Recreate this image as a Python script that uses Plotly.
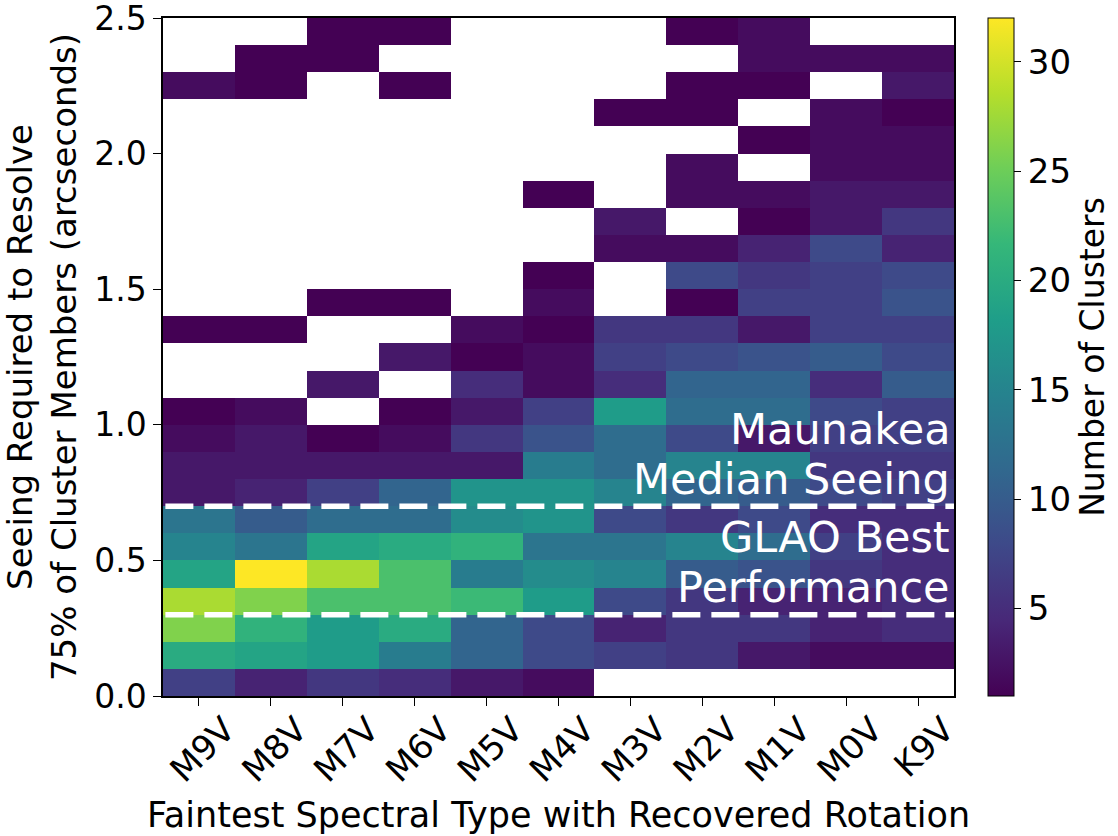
import plotly.graph_objects as go

# Faintest spectral type with a recovered rotation period (x categories)
spectral_types = ["M9V", "M8V", "M7V", "M6V", "M5V", "M4V",
                  "M3V", "M2V", "M1V", "M0V", "K9V"]

# Centres of the 0.1" seeing bins, from 0.05" up to 2.45"
seeing_centers = [0.05, 0.15, 0.25, 0.35, 0.45, 0.55, 0.65, 0.75, 0.85, 0.95,
                  1.05, 1.15, 1.25, 1.35, 1.45, 1.55, 1.65, 1.75, 1.85, 1.95,
                  2.05, 2.15, 2.25, 2.35, 2.45]

N = None  # empty bin (no clusters)

# Number of clusters per (seeing bin, spectral type); rows go from 0.0" upward
counts = [
    [7, 4, 6, 5, 3, 2, N, N, N, N, N],          # 0.0-0.1
    [20, 19, 18, 14, 11, 8, 7, 6, 3, 2, 2],     # 0.1-0.2
    [26, 21, 18, 20, 11, 8, 4, 6, 6, 4, 5],     # 0.2-0.3
    [28, 26, 23, 23, 22, 18, 8, 6, 4, 4, 5],    # 0.3-0.4
    [19, 32, 28, 23, 14, 16, 15, 10, 9, 6, 5],  # 0.4-0.5
    [15, 13, 19, 20, 21, 13, 13, 15, 12, 7, 5], # 0.5-0.6
    [13, 10, 12, 12, 16, 17, 8, 6, 8, 5, 5],    # 0.6-0.7
    [3, 4, 7, 11, 17, 17, 15, 11, 10, 8, 7],    # 0.7-0.8
    [3, 3, 3, 3, 3, 14, 12, 15, 15, 6, 6],      # 0.8-0.9
    [2, 3, 1, 2, 6, 9, 12, 8, 3, 7, 7],         # 0.9-1.0
    [1, 2, N, 1, 3, 7, 18, 12, 12, 8, 7],       # 1.0-1.1
    [N, N, 3, N, 5, 2, 5, 11, 11, 5, 10],       # 1.1-1.2
    [N, N, N, 3, 1, 2, 7, 8, 9, 10, 8],         # 1.2-1.3
    [1, 1, N, N, 2, 1, 6, 6, 3, 7, 7],          # 1.3-1.4
    [N, N, 1, 1, N, 2, N, 1, 7, 7, 9],          # 1.4-1.5
    [N, N, N, N, N, 1, N, 8, 6, 7, 8],          # 1.5-1.6
    [N, N, N, N, N, N, 2, 2, 4, 8, 4],          # 1.6-1.7
    [N, N, N, N, N, N, 3, N, 1, 3, 6],          # 1.7-1.8
    [N, N, N, N, N, 1, N, 2, 2, 3, 3],          # 1.8-1.9
    [N, N, N, N, N, N, N, 2, N, 2, 2],          # 1.9-2.0
    [N, N, N, N, N, N, N, N, 1, 2, 2],          # 2.0-2.1
    [N, N, N, N, N, N, 1, 1, N, 2, 1],          # 2.1-2.2
    [2, 1, N, 1, N, N, N, 1, 1, N, 3],          # 2.2-2.3
    [N, 1, 1, N, N, N, N, N, 2, 2, 2],          # 2.3-2.4
    [N, N, 1, 1, N, N, N, 1, 2, N, N],          # 2.4-2.5
]

# Seeing limits marked with dashed lines: GLAO best (0.3") and Maunakea median (0.7")
reference_seeing = [0.3, 0.7]

y_ticks = [0.0, 0.5, 1.0, 1.5, 2.0, 2.5]
cbar_ticks = [5, 10, 15, 20, 25, 30]

FONT = "DejaVu Sans"

fig = go.Figure()

fig.add_trace(go.Heatmap(
    x=spectral_types,
    y=seeing_centers,
    z=counts,
    zmin=1,
    zmax=32,
    colorscale="Viridis",
    hoverongaps=False,
    colorbar=dict(
        title=dict(text="Number of Clusters", side="right",
                   font=dict(family=FONT, size=33, color="black")),
        x=1.043, xanchor="left", xref="paper", xpad=0,
        y=0.5, yanchor="middle", len=1.0, lenmode="fraction", ypad=0,
        thickness=26,
        outlinewidth=1, outlinecolor="black",
        tickvals=cbar_ticks,
        ticks="outside", ticklen=7, tickwidth=1, tickcolor="black",
        tickfont=dict(family=FONT, size=34, color="black"),
    ),
))

for y in reference_seeing:
    fig.add_shape(type="line", xref="paper", yref="y",
                  x0=0.003, x1=1, y0=y, y1=y,
                  line=dict(color="white", width=5.5, dash="28px,11px"))

labels = [("Maunakea", 0.985), ("Median Seeing", 0.80),
          ("GLAO Best", 0.586), ("Performance", 0.401)]
for text, y in labels:
    fig.add_annotation(text=text, xref="paper", yref="y", x=1, y=y,
                       xanchor="right", yanchor="middle", xshift=-2,
                       showarrow=False, align="right",
                       font=dict(family=FONT, size=43, color="white"))

fig.update_xaxes(
    type="category",
    title=dict(text="Faintest Spectral Type with Recovered Rotation",
               font=dict(family=FONT, size=35, color="black"), standoff=14),
    tickangle=-45,
    ticklabelshift=26,
    ticklabelstandoff=-10,
    ticks="outside", ticklen=8, tickwidth=1.2, tickcolor="black",
    tickfont=dict(family=FONT, size=34, color="black"),
    showline=True, linecolor="black", linewidth=1.5, mirror=True,
    showgrid=False, zeroline=False,
)
fig.update_yaxes(
    range=[0, 2.5],
    tickvals=y_ticks,
    tickformat=".1f",
    ticklabeloverflow="allow",
    title=dict(text="Seeing Required to Resolve<br>75% of Cluster Members (arcseconds)",
               font=dict(family=FONT, size=34, color="black"), standoff=11),
    ticks="outside", ticklen=8, tickwidth=1.2, tickcolor="black",
    tickfont=dict(family=FONT, size=33, color="black"),
    showline=True, linecolor="black", linewidth=1.5, mirror=True,
    showgrid=False, zeroline=False,
)

fig.update_layout(
    width=1118, height=836,
    margin=dict(l=163, r=164, t=18, b=140, autoexpand=False),
    paper_bgcolor="white",
    plot_bgcolor="white",
    font=dict(family=FONT, color="black"),
    showlegend=False,
)

fig.write_html("out.html", include_plotlyjs=True, full_html=True,
               config={"displayModeBar": False})
